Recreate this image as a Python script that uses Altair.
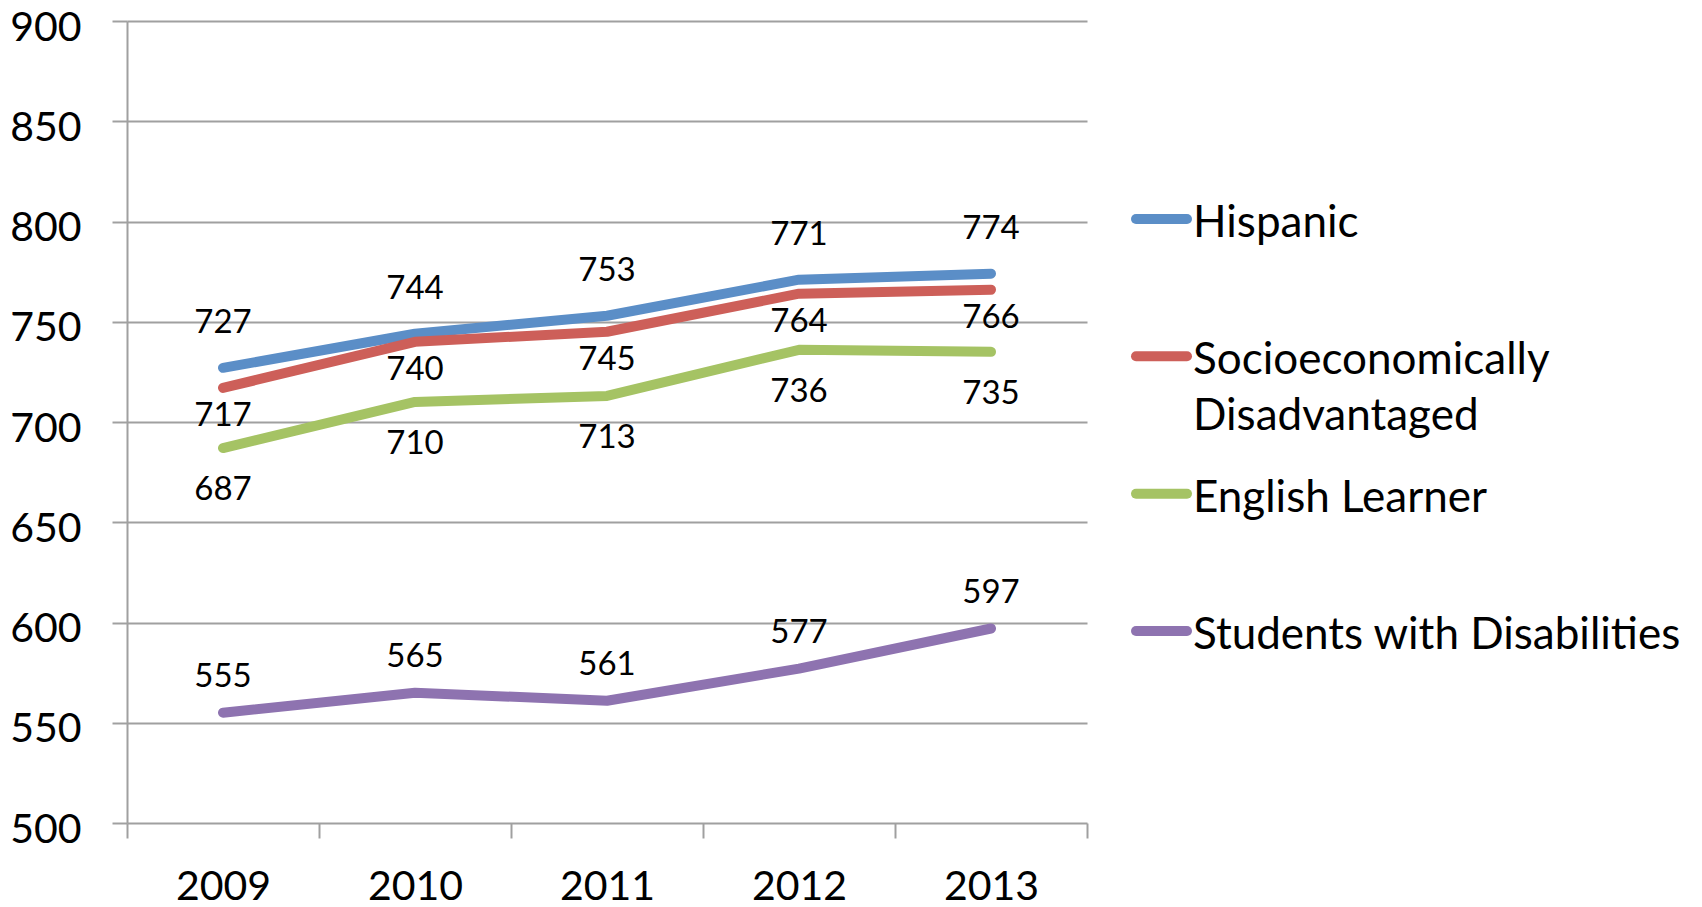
import altair as alt
import pandas as pd

# ---------------- data ----------------
years = [2009, 2010, 2011, 2012, 2013]
series = ["Hispanic", "Socioeconomically Disadvantaged", "English Learner", "Students with Disabilities"]
legend_labels = ["Hispanic", "Socioeconomically\nDisadvantaged", "English Learner", "Students with Disabilities"]
hispanic = [727, 744, 753, 771, 774]
socio = [717, 740, 745, 764, 766]
english = [687, 710, 713, 736, 735]
disabilities = [555, 565, 561, 577, 597]
y_ticks = [500, 550, 600, 650, 700, 750, 800, 850, 900]
x_bounds = [2008.5, 2009.5, 2010.5, 2011.5, 2012.5, 2013.5]

colors = ["#5B8EC7", "#CD5F59", "#A5C364", "#8E73B0"]
label_dy = {"Hispanic": -45, "Socioeconomically Disadvantaged": 28,
            "English Learner": 42, "Students with Disabilities": -36}

rows = []
for name, vals in zip(series, [hispanic, socio, english, disabilities]):
    for yr, v in zip(years, vals):
        rows.append({"series": name, "year": yr, "score": v})
df = pd.DataFrame(rows)
legend_df = pd.DataFrame({"series": series, "label": legend_labels})

FONT = "Lato"
GRID = "#A0A0A0"

x_scale = alt.Scale(domain=[2008.5, 2013.5], nice=False, zero=False)
y_scale = alt.Scale(domain=[500, 900], nice=False, zero=False)
color_scale = alt.Scale(domain=series, range=colors)

y_axis = alt.Axis(values=y_ticks, grid=True, gridColor=GRID, gridWidth=2, tickSize=15,
                  tickWidth=2, tickColor=GRID, domain=True, domainColor=GRID, domainWidth=2,
                  labelFont=FONT, labelFontSize=41, labelColor="black", labelPadding=31,
                  labelOffset=7, orient="left", title=None)

lines = alt.Chart(df).mark_line(strokeWidth=10, strokeCap="round", strokeJoin="round").encode(
    x=alt.X("year:Q", scale=x_scale, title=None,
            axis=alt.Axis(values=x_bounds, labels=False, ticks=True, tickSize=15, tickWidth=2,
                          tickColor=GRID, domain=False, grid=False, orient="bottom")),
    y=alt.Y("score:Q", scale=y_scale, title=None, axis=y_axis),
    color=alt.Color("series:N", scale=color_scale, legend=None),
)

texts = []
for i, name in enumerate(series):
    if i == 0:
        xaxis = alt.Axis(values=years, format="d", ticks=False, tickSize=0, labelPadding=44,
                         labelFont=FONT, labelFontSize=41, labelColor="black", domain=False,
                         grid=False, orient="bottom")
    else:
        xaxis = None
    t = alt.Chart(df).transform_filter(alt.datum.series == name).mark_text(
        font=FONT, fontSize=33, color="black", dy=label_dy[name]
    ).encode(
        x=alt.X("year:Q", scale=x_scale, title=None, axis=xaxis),
        y=alt.Y("score:Q", scale=y_scale, title=None, axis=y_axis),
        text=alt.Text("score:Q", format="d"),
    )
    texts.append(t)

data_layer = alt.layer(lines, *texts).resolve_axis(x="independent")

leg_y = alt.Y("series:N", sort=series, axis=None, title=None,
              scale=alt.Scale(type="point", domain=series, range=[198, 610], padding=0))
leg_rule = alt.Chart(legend_df).mark_rule(strokeWidth=10, strokeCap="round").encode(
    x=alt.value(1009), x2=alt.value(1060), y=leg_y,
    color=alt.Color("series:N", scale=color_scale, legend=None),
)
leg_text = alt.Chart(legend_df).mark_text(
    align="left", baseline="alphabetic", dy=18, font=FONT, fontSize=44, color="black",
    lineBreak="\n", lineHeight=56,
).encode(x=alt.value(1066), y=leg_y, text="label:N")
legend_layer = alt.layer(leg_rule, leg_text)

chart = alt.layer(data_layer, legend_layer).resolve_scale(y="independent").properties(
    width=960, height=802,
    padding={"left": 119, "top": 13, "right": 607, "bottom": 84},
    autosize=alt.AutoSizeParams(type="none"),
    background="white",
).configure_view(strokeWidth=0, stroke="transparent")

chart.save("out.html", embed_options={"renderer": "svg", "actions": False})
